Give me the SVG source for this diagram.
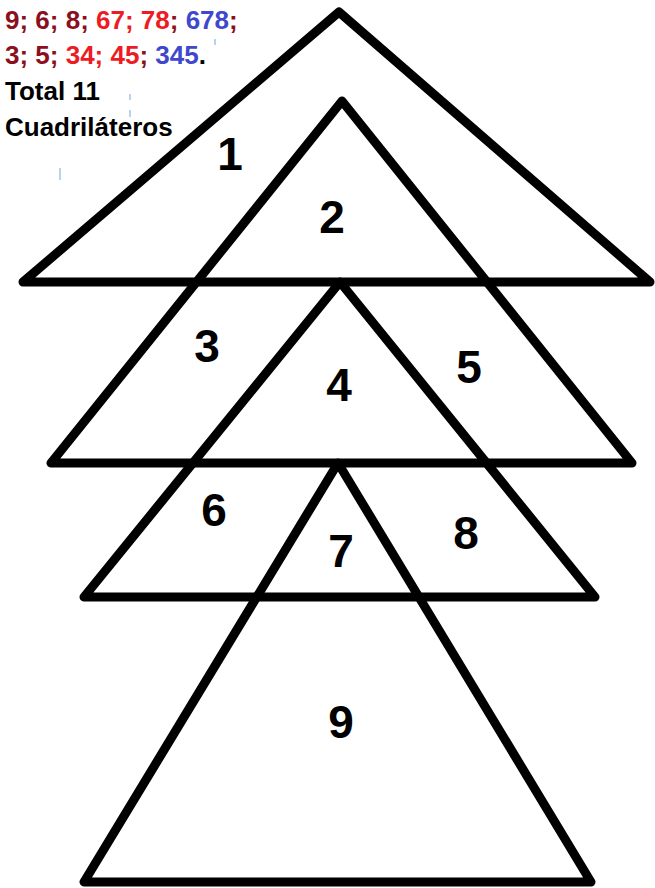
<svg xmlns="http://www.w3.org/2000/svg" width="655" height="888" viewBox="0 0 655 888">
<style>
.tri{fill:none;stroke:#000;stroke-width:9;stroke-linejoin:round}
.num{font-family:"Liberation Sans",Arial,sans-serif;font-weight:bold;font-size:46px;fill:#000;text-anchor:middle}
.hdr{font-family:"Liberation Sans",Arial,sans-serif;font-weight:bold;font-size:26px}
.dr{fill:#8a1020}.rd{fill:#ed1c24}.bl{fill:#3f48cc}.bk{fill:#000}
.tick{stroke:#9fc4ee;stroke-width:1.5}
</style>
<rect width="655" height="888" fill="#fff"/>
<g id="connectors">
<polygon id="t1" class="tri" points="339,12 23,282 650,282"/>
<polygon id="t2" class="tri" points="342,101 51,463 632,463"/>
<polygon id="t3" class="tri" points="340,282 84,597 595,597"/>
<polygon id="t4" class="tri" points="338,463 84,882 591,882"/>
</g>
<g id="labels">
<text class="num" x="230" y="170">1</text>
<text class="num" x="332" y="233">2</text>
<text class="num" x="207" y="362">3</text>
<text class="num" x="339" y="401">4</text>
<text class="num" x="469" y="383">5</text>
<text class="num" x="214" y="526">6</text>
<text class="num" x="341" y="567">7</text>
<text class="num" x="466" y="549">8</text>
<text class="num" x="341" y="738">9</text>
</g>
<g id="legend">
<text class="hdr" x="5" y="29"><tspan class="dr">9; 6; 8; </tspan><tspan class="rd">67; 78</tspan><tspan class="dr">; </tspan><tspan class="bl">678</tspan><tspan class="dr">;</tspan></text>
<text class="hdr" x="5" y="64"><tspan class="dr">3; 5; </tspan><tspan class="rd">34; 45</tspan><tspan class="dr">; </tspan><tspan class="bl">345</tspan><tspan class="bk">.</tspan></text>
<text class="hdr bk" x="5" y="100">Total 11</text>
<text class="hdr bk" x="5" y="136">Cuadriláteros</text>
<line class="tick" x1="215" y1="39" x2="215" y2="45"/>
<line class="tick" x1="130" y1="94" x2="130" y2="100"/>
<line class="tick" x1="130" y1="110" x2="130" y2="117"/>
<line class="tick" x1="60" y1="168" x2="60" y2="180"/>
</g>
</svg>
